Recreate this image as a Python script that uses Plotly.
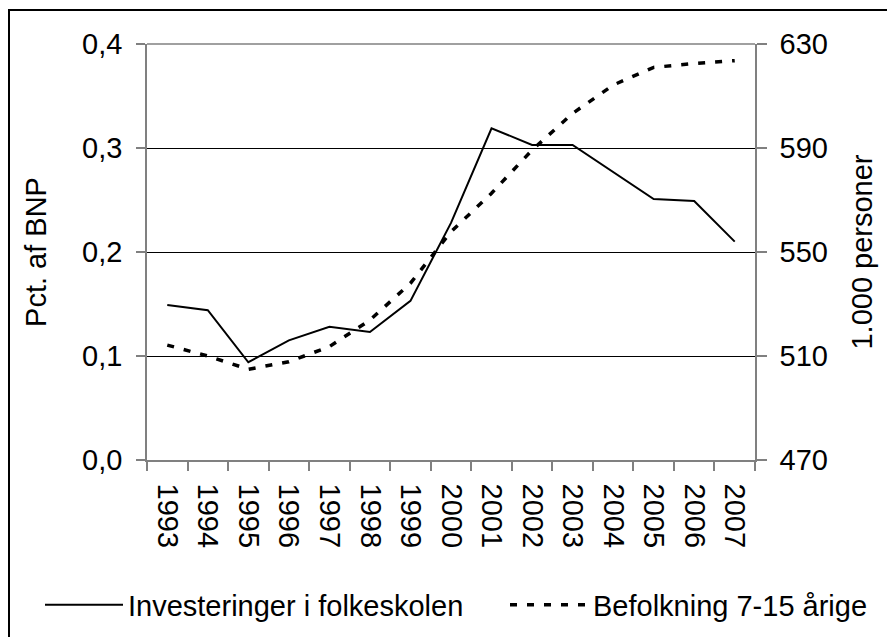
import plotly.graph_objects as go

years = ["1993", "1994", "1995", "1996", "1997", "1998", "1999", "2000",
         "2001", "2002", "2003", "2004", "2005", "2006", "2007"]
investeringer = [0.149, 0.144, 0.094, 0.115, 0.128, 0.123, 0.153, 0.228,
                 0.319, 0.303, 0.303, 0.277, 0.251, 0.249, 0.210]
befolkning = [514.2, 510.0, 504.9, 507.8, 513.6, 523.8, 538.0, 557.8,
              572.6, 589.2, 603.3, 614.2, 621.0, 622.5, 623.6]

left_ticks = [0.0, 0.1, 0.2, 0.3, 0.4]
right_ticks = [470, 510, 550, 590, 630]

FONT = "Liberation Sans, Arial, sans-serif"
FS = 29

# page has an 8px body margin, so figure is sized to fit the 895x637 window
W, H = 887, 629
L, T, PW, PH = 139, 36, 608, 416
R = W - L - PW
B = H - T - PH

fig = go.Figure()
fig.add_trace(go.Scatter(
    x=years, y=investeringer, name="Investeringer i folkeskolen",
    mode="lines", line=dict(color="black", width=2), yaxis="y", legend="legend"))
fig.add_trace(go.Scatter(
    x=years, y=befolkning, name="Befolkning 7-15 årige",
    mode="lines", line=dict(color="black", width=3.5, dash="7px,10px"), yaxis="y2",
    legend="legend2"))

legend_common = dict(orientation="h", xanchor="left", yanchor="middle",
                     xref="container", yref="container", y=(H - 597) / H,
                     font=dict(family=FONT, size=FS, color="black"),
                     itemwidth=78, bgcolor="rgba(0,0,0,0)")

fig.update_layout(
    width=W, height=H,
    margin=dict(l=L, r=R, t=T, b=B, autoexpand=False),
    paper_bgcolor="white", plot_bgcolor="white",
    separators=",.",
    font=dict(family=FONT, size=FS, color="black"),
    showlegend=True,
    legend=dict(x=32 / W, **legend_common),
    legend2=dict(x=497 / W, **legend_common),
    xaxis=dict(
        type="category", tickangle=90, tickson="boundaries",
        ticks="outside", ticklen=9, tickcolor="#808080", tickwidth=1.5,
        showline=True, linecolor="#808080", linewidth=1.5,
        showgrid=False, zeroline=False, automargin=False,
        ticklabelstandoff=16,
        tickfont=dict(family=FONT, size=FS, color="black"),
        range=[-0.5, 14.5]),
    yaxis=dict(
        range=[0, 0.4], tickvals=left_ticks, tickformat=".1f",
        ticks="outside", ticklen=9, tickcolor="#808080", tickwidth=1.5,
        showline=True, linecolor="#808080", linewidth=1.5,
        showgrid=True, gridcolor="black", gridwidth=1.2, zeroline=False,
        automargin=False, ticklabelstandoff=8,
        tickfont=dict(family=FONT, size=FS, color="black"),
        title=dict(text="Pct. af BNP", font=dict(family=FONT, size=FS, color="black"), standoff=27)),
    yaxis2=dict(
        range=[470, 630], tickvals=right_ticks, overlaying="y", side="right",
        ticks="outside", ticklen=10, tickcolor="#808080", tickwidth=1.5,
        showline=True, linecolor="#808080", linewidth=1.5,
        showgrid=False, zeroline=False, automargin=False, ticklabelstandoff=7,
        tickfont=dict(family=FONT, size=FS, color="black"),
        title=dict(text="1.000 personer", font=dict(family=FONT, size=FS, color="black"), standoff=25)),
)

# top border of plot area (grey)
fig.add_shape(type="line", xref="paper", yref="paper", x0=0, x1=1, y0=1, y1=1,
              line=dict(color="#808080", width=1.5))

# outer chart frame
fig.add_shape(type="rect", xref="paper", yref="paper",
              x0=(1 - L) / PW, x1=(886 - L) / PW,
              y0=(T + PH - 640) / PH, y1=(T + PH - 2) / PH,
              line=dict(color="black", width=2), fillcolor="rgba(0,0,0,0)", layer="below")

fig.write_html("out.html")
